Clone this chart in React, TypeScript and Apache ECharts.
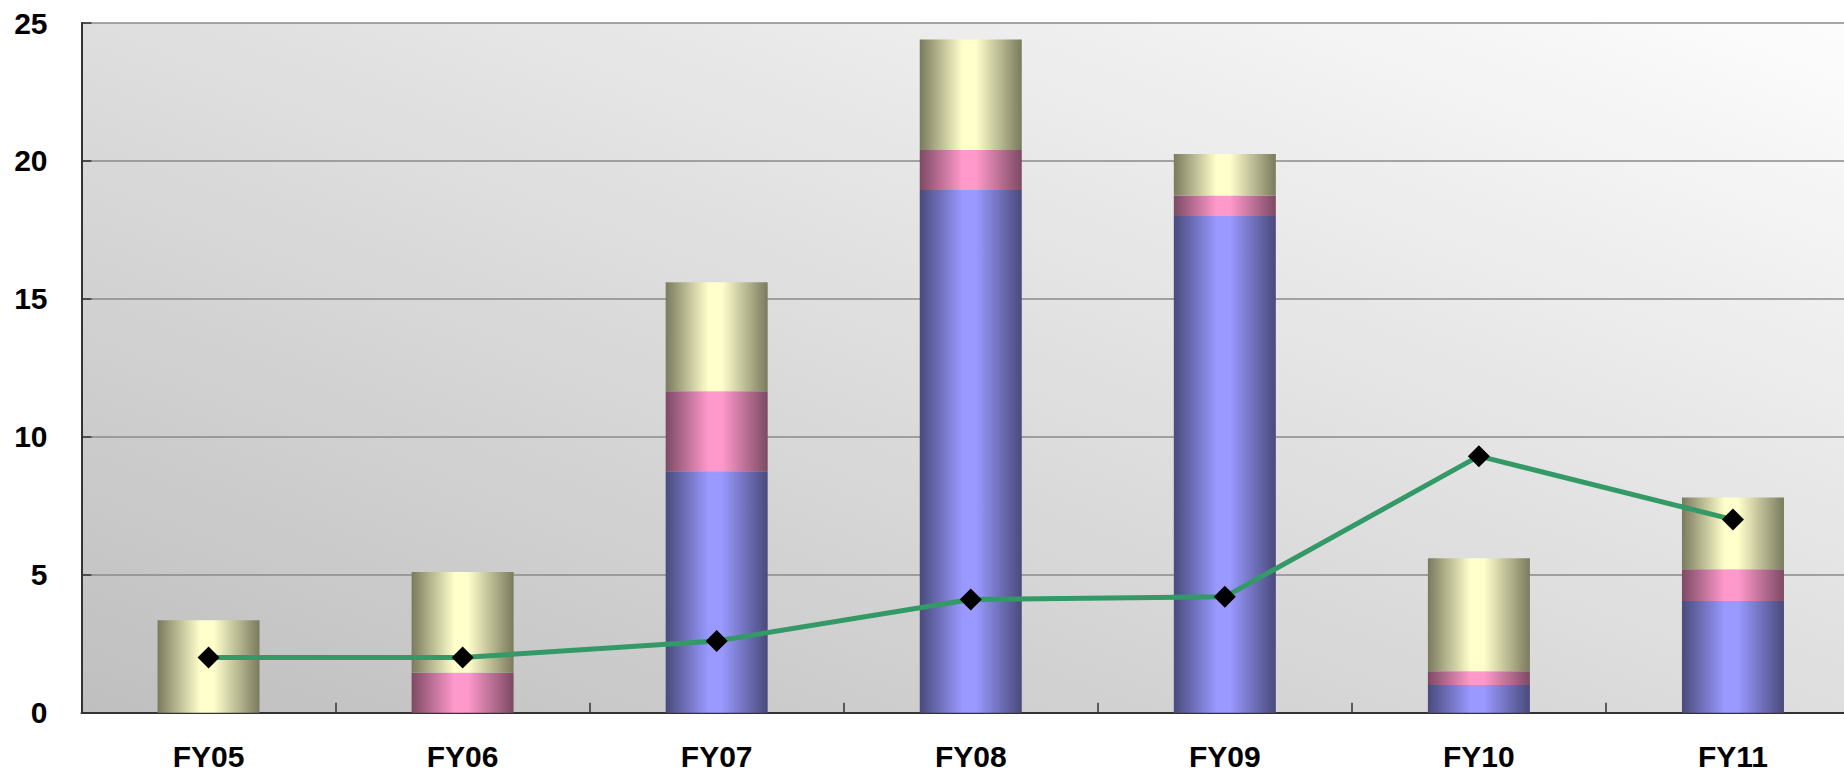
import React, { useEffect, useRef } from "react";
import * as echarts from "echarts";

const categories = ["FY05", "FY06", "FY07", "FY08", "FY09", "FY10", "FY11"];
const blueValues = [0, 0, 8.75, 18.95, 18.0, 1.0, 4.05];
const pinkValues = [0, 1.45, 2.9, 1.45, 0.75, 0.5, 1.15];
const yellowValues = [3.35, 3.65, 3.95, 4.0, 1.5, 4.1, 2.6];
const lineValues = [2.0, 2.0, 2.6, 4.1, 4.2, 9.3, 7.0];
const yTicks = { min: 0, max: 25, interval: 5 };

const FONT = "'Liberation Sans', Arial, Helvetica, sans-serif";

function barGradient(dark: string, light: string) {
  return new echarts.graphic.LinearGradient(0, 0, 1, 0, [
    { offset: 0, color: dark },
    { offset: 0.42, color: light },
    { offset: 0.55, color: light },
    { offset: 1, color: dark },
  ]);
}

export default function App() {
  const ref = useRef<HTMLDivElement>(null);
  useEffect(() => {
    document.body.style.margin = "0";
    document.body.style.overflow = "hidden";
    if (!ref.current) return;
    const chart = echarts.init(ref.current, null, { renderer: "svg" });
    chart.setOption({
      animation: false,
      backgroundColor: "#ffffff",
      grid: {
        left: 81.5,
        top: 23,
        right: 0,
        bottom: 63.3,
        show: true,
        borderWidth: 0,
        backgroundColor: new echarts.graphic.LinearGradient(0, 1, 1, 0, [
          { offset: 0, color: "#bfbfbf" },
          { offset: 1, color: "#fdfdfd" },
        ]),
      },
      xAxis: {
        type: "category",
        data: categories,
        boundaryGap: true,
        axisLine: { show: true, lineStyle: { color: "#333333", width: 2 } },
        axisTick: {
          show: true,
          inside: true,
          length: 10,
          alignWithLabel: false,
          lineStyle: { color: "#333333", width: 1.5 },
        },
        axisLabel: {
          color: "#000000",
          fontFamily: FONT,
          fontWeight: "bold",
          fontSize: 30,
          lineHeight: 24,
          margin: 32,
        },
        splitLine: { show: false },
      },
      yAxis: {
        type: "value",
        min: yTicks.min,
        max: yTicks.max,
        interval: yTicks.interval,
        axisLine: { show: true, lineStyle: { color: "#333333", width: 2 } },
        axisTick: {
          show: true,
          inside: true,
          length: 10,
          lineStyle: { color: "#333333", width: 1.5 },
        },
        axisLabel: {
          color: "#000000",
          fontFamily: FONT,
          fontWeight: "bold",
          fontSize: 30,
          margin: 34,
        },
        splitLine: { show: true, lineStyle: { color: "#8a8a8a", width: 1.5 } },
      },
      series: [
        {
          type: "bar",
          stack: "total",
          data: blueValues,
          barWidth: 102,
          itemStyle: { color: barGradient("#4a4a7c", "#9999ff") },
        },
        {
          type: "bar",
          stack: "total",
          data: pinkValues,
          barWidth: 102,
          itemStyle: { color: barGradient("#7c4a63", "#ff99cc") },
        },
        {
          type: "bar",
          stack: "total",
          data: yellowValues,
          barWidth: 102,
          itemStyle: { color: barGradient("#7a7a5e", "#ffffcc") },
        },
        {
          type: "line",
          data: lineValues,
          z: 5,
          symbol: "diamond",
          symbolSize: 22,
          showSymbol: true,
          lineStyle: { color: "#339966", width: 5 },
          itemStyle: { color: "#000000", borderWidth: 0 },
        },
      ],
    });
    return () => chart.dispose();
  }, []);
  return (
    <div style={{ width: 1844, height: 776, overflow: "hidden", position: "relative" }}>
      <div ref={ref} style={{ width: 1860, height: 776 }} />
    </div>
  );
}
